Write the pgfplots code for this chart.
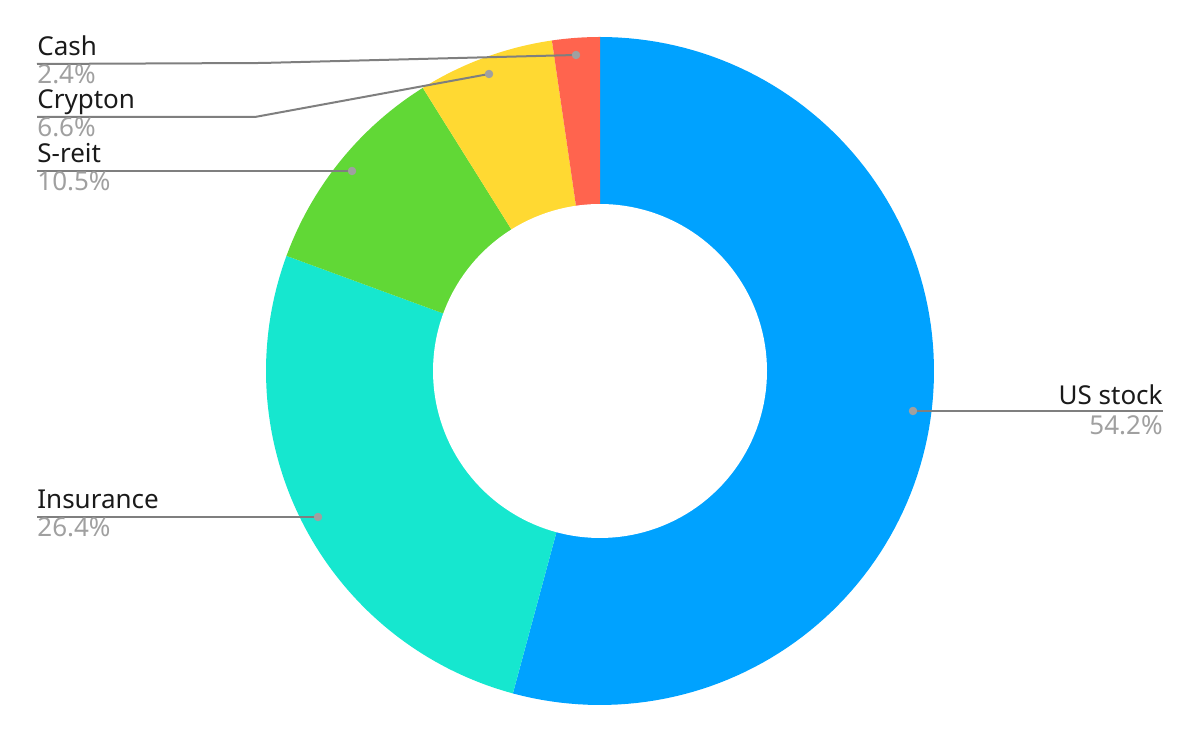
\documentclass[border=0pt]{standalone}
\usepackage{pgfplots}
\pgfplotsset{compat=1.18}
\usepackage{fontspec}
\setmainfont{Noto Sans}
\definecolor{cUS}{HTML}{00A2FF}
\definecolor{cIns}{HTML}{16E7CF}
\definecolor{cReit}{HTML}{61D836}
\definecolor{cCry}{HTML}{FFD932}
\definecolor{cCash}{HTML}{FF644E}
\definecolor{leader}{HTML}{7F7F7F}
\definecolor{dotc}{HTML}{A0A0A0}
\definecolor{pctc}{HTML}{A0A0A0}
\definecolor{namec}{HTML}{1A1A1A}
\begin{document}
\begin{tikzpicture}
\path[use as bounding box] (0,0) rectangle (600pt,371pt);
\begin{axis}[
  x=0.5pt, y=0.5pt,
  xmin=0, xmax=1200, ymin=0, ymax=742,
  hide axis, clip=false,
  anchor=south west, at={(0,0)},
]
% shares (percent): US stock 54.2, Insurance 26.4, S-reit 10.5, Crypton 6.6, Cash 2.4
% slices run clockwise from the top; angle = 90 - 3.6 * cumulative share
\addplot[fill=cUS, draw=none, domain={90-3.6*54.2}:90, samples=120]
  ({600+334*cos(x)},{371+334*sin(x)}) -- (axis cs:600,371) -- cycle;
\addplot[fill=cIns, draw=none, domain={90-3.6*(54.2+26.4)}:{90-3.6*54.2}, samples=80]
  ({600+334*cos(x)},{371+334*sin(x)}) -- (axis cs:600,371) -- cycle;
\addplot[fill=cReit, draw=none, domain={90-3.6*(54.2+26.4+10.5)}:{90-3.6*(54.2+26.4)}, samples=40]
  ({600+334*cos(x)},{371+334*sin(x)}) -- (axis cs:600,371) -- cycle;
\addplot[fill=cCry, draw=none, domain={90-3.6*(54.2+26.4+10.5+6.6)}:{90-3.6*(54.2+26.4+10.5)}, samples=30]
  ({600+334*cos(x)},{371+334*sin(x)}) -- (axis cs:600,371) -- cycle;
\addplot[fill=cCash, draw=none, domain=-270:{90-3.6*(54.2+26.4+10.5+6.6)}, samples=20]
  ({600+334*cos(x)},{371+334*sin(x)}) -- (axis cs:600,371) -- cycle;
% hole
\addplot[fill=white, draw=none, domain=0:360, samples=160]
  ({600+167*cos(x)},{371+167*sin(x)}) -- cycle;
% leader lines
\addplot[leader, line width=1pt, mark=none] coordinates {(913,331) (1163,331)};
\addplot[leader, line width=1pt, mark=none] coordinates {(318,225) (37,225)};
\addplot[leader, line width=1pt, mark=none] coordinates {(352,571) (37,571)};
\addplot[leader, line width=1pt, mark=none] coordinates {(489,668) (255,625) (37,625)};
\addplot[leader, line width=1pt, mark=none] coordinates {(576,687) (262,679) (37,678)};
% dots
\addplot[only marks, mark=*, mark size=1.9pt, mark options={fill=dotc, draw=dotc}]
  coordinates {(913,331) (318,225) (352,571) (489,668) (576,687)};
% labels
\begin{scope}[every node/.style={inner sep=0pt, font=\fontsize{13}{15}\selectfont}]
\node[anchor=base east, text=namec] at (axis cs:1163,337) {US stock};
\node[anchor=base east, text=pctc] at (axis cs:1163,307) {54.2\%};
\node[anchor=base west, text=namec] at (axis cs:37,233) {Insurance};
\node[anchor=base west, text=pctc] at (axis cs:37,205) {26.4\%};
\node[anchor=base west, text=namec] at (axis cs:37,579) {S-reit};
\node[anchor=base west, text=pctc] at (axis cs:37,551) {10.5\%};
\node[anchor=base west, text=namec] at (axis cs:37,633) {Crypton};
\node[anchor=base west, text=pctc] at (axis cs:37,605) {6.6\%};
\node[anchor=base west, text=namec] at (axis cs:37,686) {Cash};
\node[anchor=base west, text=pctc] at (axis cs:37,658) {2.4\%};
\end{scope}
\end{axis}
\end{tikzpicture}
\end{document}
